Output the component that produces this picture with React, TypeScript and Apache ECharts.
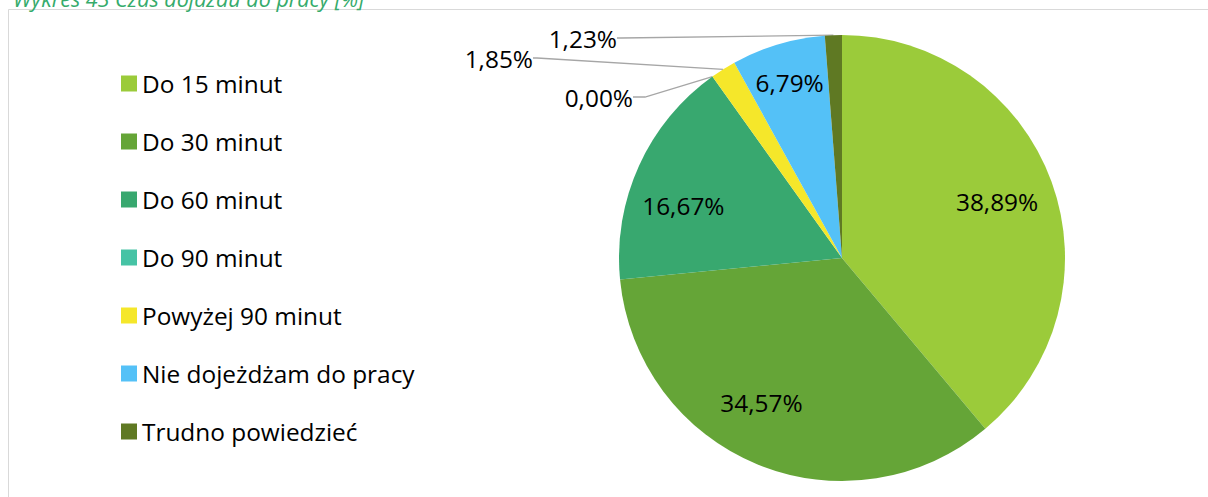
import React, { useEffect, useRef } from "react";
import * as echarts from "echarts";

const titleText = "Wykres 43 Czas dojazdu do pracy [%]";
const categories = [
  "Do 15 minut",
  "Do 30 minut",
  "Do 60 minut",
  "Do 90 minut",
  "Powyżej 90 minut",
  "Nie dojeżdżam do pracy",
  "Trudno powiedzieć",
];
const values = [38.89, 34.57, 16.67, 0.0, 1.85, 6.79, 1.23];
const colors = ["#9BCB3A", "#65A537", "#38A86F", "#46C3A5", "#F5E72A", "#54C1F7", "#5F7923"];

// layout (not data)
const FONT = "'Open Sans'";
const CX = 842;
const CY = 258;
const R = 223;
const insideRadiusRatio: Record<number, number> = { 0: 0.74, 1: 0.74, 2: 0.75, 5: 0.82 };
const insideAngleShift: Record<number, number> = { 1: 7, 2: -6 };
const outsideLabelPos: Record<number, [number, number, number]> = {
  3: [636, 97, 12],
  4: [536, 58, 4],
  6: [620, 38, 4],
};

const fmt = (v: number) => v.toFixed(2).replace(".", ",") + "%";

export default function App() {
  const ref = useRef<HTMLDivElement>(null);
  useEffect(() => {
    if (!ref.current) return;
    const chart = echarts.init(ref.current, undefined, { renderer: "svg" });
    const total = values.reduce((a, b) => a + b, 0);
    const midAngle = (i: number) => {
      let cum = 0;
      for (let j = 0; j < i; j++) cum += values[j];
      return ((cum + values[i] / 2) / total) * Math.PI * 2;
    };
    const data = categories.map((name, i) => {
      const outside = outsideLabelPos[i] != null;
      return {
        name,
        value: values[i],
        itemStyle: { color: colors[i] },
        label: { position: outside ? "outside" : "inside" },
        labelLine: outside
          ? { show: true, length: 5, length2: outsideLabelPos[i][2] }
          : { show: false },
      };
    });
    chart.setOption({
      animation: false,
      graphic: [
        {
          type: "rect",
          shape: { x: 8.5, y: 9.5, width: 1300, height: 600 },
          style: { fill: "none", stroke: "#d9d9d9", lineWidth: 1 },
          silent: true,
        },
        {
          type: "text",
          x: 13,
          y: 9,
          style: {
            text: titleText,
            font: `italic 21.5px ${FONT}`,
            fill: "#35AB6B",
            verticalAlign: "bottom",
          },
          silent: true,
        },
      ],
      legend: {
        orient: "vertical",
        left: 121,
        top: 71.5,
        padding: 0,
        itemWidth: 16,
        itemHeight: 16,
        itemGap: 34,
        itemTextGap: 6,
        icon: "rect",
        selectedMode: false,
        textStyle: { fontFamily: FONT, fontSize: 24.4, color: "#000", lineHeight: 22 },
        data: categories,
      },
      series: [
        {
          type: "pie",
          center: [CX, CY],
          radius: R,
          startAngle: 90,
          clockwise: true,
          avoidLabelOverlap: false,
          silent: true,
          label: {
            show: true,
            formatter: (p: any) => fmt(p.value),
            fontFamily: FONT,
            fontSize: 24.4,
            color: "#000",
            padding: [0, 3],
          },
          labelLine: {
            lineStyle: { color: "#A6A6A6", width: 1.3 },
            minTurnAngle: 90,
          },
          labelLayout: (p: any) => {
            const i = p.dataIndex;
            if (outsideLabelPos[i]) {
              const [x, y] = outsideLabelPos[i];
              return { x, y, align: "right", verticalAlign: "middle" };
            }
            const a = midAngle(i) + ((insideAngleShift[i] ?? 0) * Math.PI) / 180;
            const r = R * (insideRadiusRatio[i] ?? 0.75);
            return {
              x: CX + r * Math.sin(a),
              y: CY - r * Math.cos(a),
              align: "center",
              verticalAlign: "middle",
            };
          },
          data,
        },
      ],
    });
    return () => chart.dispose();
  }, []);
  return (
    <div
      ref={ref}
      style={{ position: "absolute", left: 0, top: 0, width: 1208, height: 497, background: "#fff" }}
    />
  );
}
